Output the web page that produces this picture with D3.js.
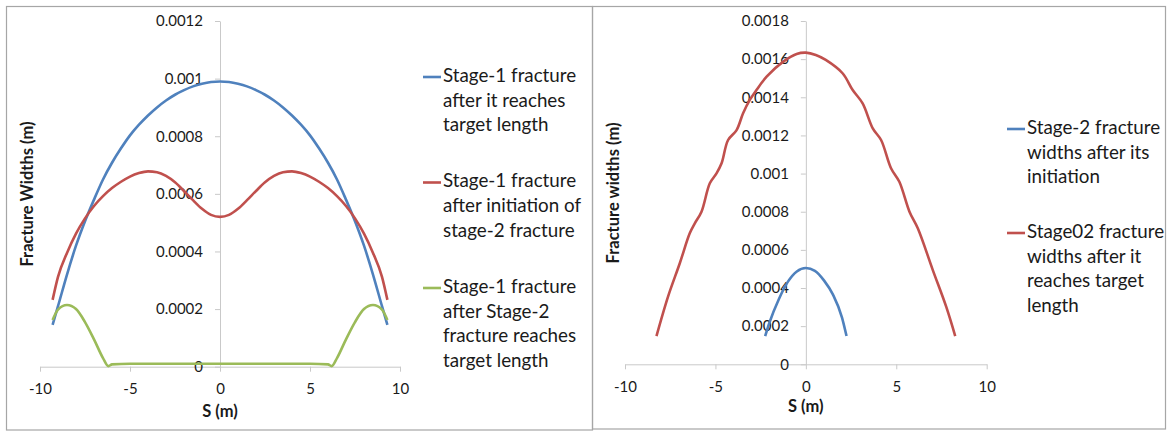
<!DOCTYPE html>
<html>
<head>
<meta charset="utf-8">
<script src="https://cdn.jsdelivr.net/npm/d3@7"></script>
<style>
  html, body { margin: 0; padding: 0; background: #ffffff; }
  svg { display: block; }
  text { font-family: Lato, "Open Sans", sans-serif; fill: #1a1a1a; }
</style>
</head>
<body>
<svg id="chart" width="1168" height="432"></svg>
<script>
// ---------------- data ----------------
const xTickValues = [-10, -5, 0, 5, 10];

const leftYTickValues = [0, 0.0002, 0.0004, 0.0006, 0.0008, 0.001, 0.0012];
const leftYTickLabels = ["0", "0.0002", "0.0004", "0.0006", "0.0008", "0.001", "0.0012"];
const rightYTickValues = [0, 0.0002, 0.0004, 0.0006, 0.0008, 0.001, 0.0012, 0.0014, 0.0016, 0.0018];
const rightYTickLabels = ["0", "0.0002", "0.0004", "0.0006", "0.0008", "0.001", "0.0012", "0.0014", "0.0016", "0.0018"];

// Left chart: Stage-1 fracture after it reaches target length
const s1TargetS = [-9.3, -9, -8.5, -8, -7.5, -7, -6.5, -6, -5.5, -5, -4.5, -4, -3.5, -3, -2.5, -2, -1.5, -1, -0.5, 0,
                   0.5, 1, 1.5, 2, 2.5, 3, 3.5, 4, 4.5, 5, 5.5, 6, 6.5, 7, 7.5, 8, 8.5, 9, 9.3];
const s1TargetW = [0.000145, 0.00021, 0.00032, 0.00042, 0.000505, 0.00058, 0.00065, 0.000708, 0.000758, 0.000803, 0.00084, 0.000872, 0.0009, 0.000924, 0.000944, 0.00096, 0.000973, 0.000982, 0.000988, 0.00099,
                   0.000988, 0.000982, 0.000973, 0.00096, 0.000944, 0.000924, 0.0009, 0.000872, 0.00084, 0.000803, 0.000758, 0.000708, 0.00065, 0.00058, 0.000505, 0.00042, 0.00032, 0.00021, 0.000145];

// Left chart: Stage-1 fracture after initiation of stage-2 fracture
const s1InitS = [-9.3, -9, -8.5, -8, -7.5, -7, -6.5, -6, -5.5, -5, -4.5, -4, -3.5, -3, -2.5, -2, -1.5, -1, -0.5, 0,
                 0.5, 1, 1.5, 2, 2.5, 3, 3.5, 4, 4.5, 5, 5.5, 6, 6.5, 7, 7.5, 8, 8.5, 9, 9.3];
const s1InitW = [0.000232, 0.000312, 0.000395, 0.000462, 0.000515, 0.000558, 0.000592, 0.00062, 0.000642, 0.00066, 0.000672, 0.000678, 0.000675, 0.000662, 0.00064, 0.00061, 0.000578, 0.000548, 0.000527, 0.00052,
                 0.000527, 0.000548, 0.000578, 0.00061, 0.00064, 0.000662, 0.000675, 0.000678, 0.000672, 0.00066, 0.000642, 0.00062, 0.000592, 0.000558, 0.000515, 0.000462, 0.000395, 0.000312, 0.000232];

// Left chart: Stage-1 fracture after Stage-2 fracture reaches target length
const s1AfterS = [-9.3, -9, -8.5, -8, -7.5, -7, -6.5, -6.2, -6, -5, -3, 0, 3, 5, 6, 6.2, 6.5, 7, 7.5, 8, 8.5, 9, 9.3];
const s1AfterW = [0.000162, 0.000198, 0.000214, 0.0002, 0.000155, 0.000095, 0.00003, 0.000002, 0.000008, 0.00001, 0.00001, 0.00001,
                  0.00001, 0.00001, 0.000008, 0.000002, 0.00003, 0.000095, 0.000155, 0.0002, 0.000214, 0.000198, 0.000162];

// Right chart: Stage-2 fracture widths after its initiation
const s2InitS = [-2.25, -2, -1.5, -1, -0.5, 0, 0.5, 1, 1.5, 2, 2.25];
const s2InitW = [0.000148, 0.000222, 0.00034, 0.000432, 0.000487, 0.000505, 0.00049, 0.00044, 0.000365, 0.000245, 0.000148];

// Right chart: Stage02 fracture widths after it reaches target length
const s2TargetS = [-8.26, -7.62, -6.97, -6.42, -6.14, -5.77, -5.31, -4.94, -4.66, -4.3, -3.83, -3.47, -3.1, -2.73, -2.17, -1.25, -0.51, 0,
                   0.55, 1.1, 2.03, 2.59, 3.14, 3.7, 4.16, 4.71, 5.17, 5.73, 6.19, 7.02, 7.76, 8.26];
const s2TargetW = [0.000148, 0.000355, 0.00053, 0.000687, 0.000739, 0.0008, 0.000949, 0.001001, 0.001054, 0.001176, 0.001228, 0.001316, 0.001386, 0.001438, 0.001508, 0.001587, 0.001627, 0.001634,
                   0.001622, 0.001596, 0.001526, 0.001438, 0.001368, 0.001237, 0.001176, 0.001028, 0.000957, 0.0008, 0.000713, 0.000494, 0.000302, 0.000148];

const leftLegend = [
  ["Stage-1 fracture", "after it reaches", "target length"],
  ["Stage-1 fracture", "after initiation of", "stage-2 fracture"],
  ["Stage-1 fracture", "after Stage-2", "fracture reaches", "target length"]
];
const rightLegend = [
  ["Stage-2 fracture", "widths after its", "initiation"],
  ["Stage02 fracture", "widths after it", "reaches target", "length"]
];
const colors = ["#4F81BD", "#C0504D", "#9BBB59"];

// ---------------- drawing ----------------
const svg = d3.select("#chart");

// panel borders
const borderColor = "#a6a6a6";
svg.append("rect").attr("x", 6.5).attr("y", 6.5).attr("width", 586).attr("height", 423.5)
  .attr("fill", "none").attr("stroke", borderColor).attr("stroke-width", 1.2);
svg.append("rect").attr("x", 592.5).attr("y", 6.5).attr("width", 573).attr("height", 422.5)
  .attr("fill", "none").attr("stroke", borderColor).attr("stroke-width", 1.2);

function drawPanel(cfg) {
  const x = d3.scaleLinear().domain([-10, 10]).range(cfg.xRange);
  const y = d3.scaleLinear().domain(cfg.yDomain).range(cfg.yRange);
  const g = svg.append("g");

  const xAxis = d3.axisBottom(x).tickValues(xTickValues).tickFormat(d => String(d))
    .tickSize(5).tickSizeOuter(0).tickPadding(12);
  const gx = g.append("g").attr("transform", `translate(0,${y(0)})`).call(xAxis);

  const yAxis = d3.axisLeft(y).tickValues(cfg.yTicks).tickFormat((d, i) => cfg.yLabels[i])
    .tickSize(5).tickSizeOuter(0).tickPadding(12);
  const gy = g.append("g").attr("transform", `translate(${x(0)},0)`).call(yAxis);

  [gx, gy].forEach(a => {
    a.selectAll("path.domain").attr("stroke", "#c9c9c9").attr("stroke-width", 1);
    a.selectAll(".tick line").attr("stroke", "#c9c9c9").attr("stroke-width", 1);
    a.selectAll(".tick text").attr("font-family", "Lato, sans-serif").attr("font-size", 15).attr("fill", "#1a1a1a");
  });

  // series
  cfg.series.forEach((ser, i) => {
    const line = d3.line().x(d => x(d[0])).y(d => y(d[1])).curve(ser.curve);
    const pts = ser.s.map((v, k) => [v, ser.w[k]]);
    g.append("path").datum(pts).attr("d", line)
      .attr("fill", "none").attr("stroke", ser.color).attr("stroke-width", 2.6)
      .attr("stroke-linecap", "butt").attr("stroke-linejoin", "round");
  });

  // axis titles
  g.append("text").attr("x", x(0)).attr("y", cfg.xTitleY).attr("text-anchor", "middle")
    .attr("dominant-baseline", "middle").attr("font-weight", "bold").attr("font-size", 16.5)
    .text("S (m)");
  g.append("text").attr("transform", `translate(${cfg.yTitleX},${cfg.yTitleY}) rotate(-90)`)
    .attr("text-anchor", "middle").attr("dominant-baseline", "middle")
    .attr("font-weight", "bold").attr("font-size", 16.5).text(cfg.yTitle);

  // legend
  cfg.legend.forEach((lines, i) => {
    const y0 = cfg.legendY[i];
    g.append("line").attr("x1", cfg.legendX).attr("x2", cfg.legendX + 18)
      .attr("y1", y0).attr("y2", y0).attr("stroke", cfg.series[i].color).attr("stroke-width", 2.6);
    lines.forEach((t, k) => {
      g.append("text").attr("x", cfg.legendX + 20).attr("y", y0 + k * 24.8)
        .attr("dominant-baseline", "middle").attr("font-size", 18.8).text(t);
    });
  });
}

const smooth = d3.curveMonotoneX;
const wiggly = d3.curveCatmullRom.alpha(0.5);

drawPanel({
  xRange: [40, 400],
  yDomain: [0, 0.0012],
  yRange: [366.7, 21],
  yTicks: leftYTickValues,
  yLabels: leftYTickLabels,
  xTitleY: 413,
  yTitleX: 29, yTitleY: 194,
  yTitle: "Fracture Widths (m)",
  series: [
    { s: s1TargetS, w: s1TargetW, color: colors[0], curve: smooth },
    { s: s1InitS, w: s1InitW, color: colors[1], curve: smooth },
    { s: s1AfterS, w: s1AfterW, color: colors[2], curve: smooth }
  ],
  legend: leftLegend,
  legendX: 423,
  legendY: [77, 182.5, 288]
});

drawPanel({
  xRange: [625, 986.7],
  yDomain: [0, 0.0018],
  yRange: [364.3, 21],
  yTicks: rightYTickValues,
  yLabels: rightYTickLabels,
  xTitleY: 408,
  yTitleX: 615, yTitleY: 193,
  yTitle: "Fracture widths (m)",
  series: [
    { s: s2InitS, w: s2InitW, color: colors[0], curve: smooth },
    { s: s2TargetS, w: s2TargetW, color: colors[1], curve: wiggly }
  ],
  legend: rightLegend,
  legendX: 1007,
  legendY: [129, 233]
});
</script>
</body>
</html>
